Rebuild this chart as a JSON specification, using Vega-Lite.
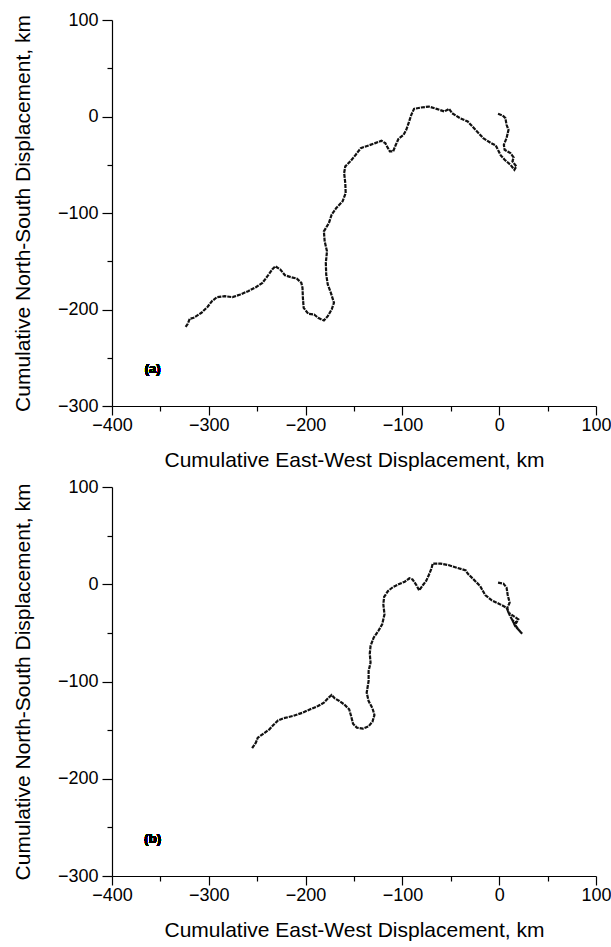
{
  "$schema": "https://vega.github.io/schema/vega-lite/v6.json",
  "background": "white",
  "padding": {"left": 12, "top": 11, "right": 2, "bottom": 5},
  "spacing": 8,
  "config": {
    "view": {"stroke": null},
    "font": "Liberation Sans",
    "axis": {
      "grid": false,
      "domainColor": "black",
      "domainWidth": 1.2,
      "tickColor": "black",
      "tickWidth": 1.2,
      "labelColor": "black",
      "labelFont": "Liberation Sans",
      "labelFontSize": 18,
      "labelFlush": false,
      "labelOverlap": false,
      "titleColor": "black",
      "titleFont": "Liberation Sans",
      "titleFontSize": 21,
      "titleFontWeight": "normal"
    }
  },
  "datasets": {
    "track": [
      {"p":"a","i":1,"x":-1.2,"y":2.8},{"p":"a","i":2,"x":3.6,"y":1.0},{"p":"a","i":3,"x":6.4,"y":-1.7},{"p":"a","i":4,"x":7.6,"y":-8.6},{"p":"a","i":5,"x":9.6,"y":-13.8},{"p":"a","i":6,"x":7.6,"y":-22.4},{"p":"a","i":7,"x":4.8,"y":-29.3},{"p":"a","i":8,"x":5.6,"y":-34.5},{"p":"a","i":9,"x":11.6,"y":-37.9},{"p":"a","i":10,"x":14.9,"y":-42.4},{"p":"a","i":11,"x":13.7,"y":-46.5},{"p":"a","i":12,"x":17.7,"y":-51.7},{"p":"a","i":13,"x":15.7,"y":-55.2},{"p":"a","i":14,"x":11.6,"y":-50.0},{"p":"a","i":15,"x":5.6,"y":-44.8},{"p":"a","i":16,"x":1.6,"y":-40.3},{"p":"a","i":17,"x":-3.6,"y":-30.0},{"p":"a","i":18,"x":-8.4,"y":-27.6},{"p":"a","i":19,"x":-16.5,"y":-22.4},{"p":"a","i":20,"x":-24.5,"y":-13.8},{"p":"a","i":21,"x":-32.5,"y":-5.2},{"p":"a","i":22,"x":-40.6,"y":-1.7},{"p":"a","i":23,"x":-48.6,"y":3.4},{"p":"a","i":24,"x":-51.8,"y":7.9},{"p":"a","i":25,"x":-56.6,"y":5.2},{"p":"a","i":26,"x":-64.7,"y":7.9},{"p":"a","i":27,"x":-72.7,"y":10.3},{"p":"a","i":28,"x":-80.7,"y":9.3},{"p":"a","i":29,"x":-88.0,"y":7.9},{"p":"a","i":30,"x":-90.8,"y":1.7},{"p":"a","i":31,"x":-93.6,"y":-6.9},{"p":"a","i":32,"x":-96.0,"y":-13.8},{"p":"a","i":33,"x":-98.8,"y":-19.0},{"p":"a","i":34,"x":-104.0,"y":-23.1},{"p":"a","i":35,"x":-106.8,"y":-29.3},{"p":"a","i":36,"x":-109.6,"y":-36.2},{"p":"a","i":37,"x":-112.9,"y":-36.2},{"p":"a","i":38,"x":-114.9,"y":-32.8},{"p":"a","i":39,"x":-117.7,"y":-27.6},{"p":"a","i":40,"x":-121.7,"y":-25.2},{"p":"a","i":41,"x":-128.1,"y":-27.6},{"p":"a","i":42,"x":-134.9,"y":-30.0},{"p":"a","i":43,"x":-143.0,"y":-32.8},{"p":"a","i":44,"x":-148.2,"y":-39.6},{"p":"a","i":45,"x":-153.8,"y":-46.5},{"p":"a","i":46,"x":-159.0,"y":-51.7},{"p":"a","i":47,"x":-160.2,"y":-58.6},{"p":"a","i":48,"x":-159.0,"y":-69.0},{"p":"a","i":49,"x":-158.6,"y":-79.3},{"p":"a","i":50,"x":-161.8,"y":-87.9},{"p":"a","i":51,"x":-168.3,"y":-94.8},{"p":"a","i":52,"x":-173.1,"y":-101.7},{"p":"a","i":53,"x":-175.9,"y":-110.3},{"p":"a","i":54,"x":-181.1,"y":-119.0},{"p":"a","i":55,"x":-180.3,"y":-129.3},{"p":"a","i":56,"x":-177.9,"y":-139.6},{"p":"a","i":57,"x":-179.1,"y":-151.7},{"p":"a","i":58,"x":-178.7,"y":-163.8},{"p":"a","i":59,"x":-177.1,"y":-174.1},{"p":"a","i":60,"x":-173.9,"y":-182.7},{"p":"a","i":61,"x":-170.7,"y":-193.1},{"p":"a","i":62,"x":-173.1,"y":-200.0},{"p":"a","i":63,"x":-177.1,"y":-206.9},{"p":"a","i":64,"x":-181.1,"y":-211.4},{"p":"a","i":65,"x":-187.1,"y":-208.6},{"p":"a","i":66,"x":-191.2,"y":-205.2},{"p":"a","i":67,"x":-197.2,"y":-204.5},{"p":"a","i":68,"x":-202.0,"y":-198.3},{"p":"a","i":69,"x":-202.8,"y":-187.9},{"p":"a","i":70,"x":-203.2,"y":-177.6},{"p":"a","i":71,"x":-204.4,"y":-172.4},{"p":"a","i":72,"x":-209.2,"y":-167.9},{"p":"a","i":73,"x":-215.3,"y":-166.5},{"p":"a","i":74,"x":-221.3,"y":-164.5},{"p":"a","i":75,"x":-226.1,"y":-158.6},{"p":"a","i":76,"x":-231.3,"y":-155.2},{"p":"a","i":77,"x":-234.5,"y":-158.6},{"p":"a","i":78,"x":-239.4,"y":-165.5},{"p":"a","i":79,"x":-244.6,"y":-172.4},{"p":"a","i":80,"x":-251.4,"y":-176.9},{"p":"a","i":81,"x":-259.4,"y":-181.0},{"p":"a","i":82,"x":-267.5,"y":-184.5},{"p":"a","i":83,"x":-275.5,"y":-187.2},{"p":"a","i":84,"x":-283.5,"y":-186.2},{"p":"a","i":85,"x":-291.6,"y":-187.2},{"p":"a","i":86,"x":-296.8,"y":-191.4},{"p":"a","i":87,"x":-301.6,"y":-197.6},{"p":"a","i":88,"x":-307.6,"y":-203.4},{"p":"a","i":89,"x":-315.7,"y":-208.6},{"p":"a","i":90,"x":-319.7,"y":-209.6},{"p":"a","i":91,"x":-321.7,"y":-214.8},{"p":"a","i":92,"x":-324.5,"y":-218.9},
      {"p":"b","i":1,"x":-1.2,"y":1.6},{"p":"b","i":2,"x":4.4,"y":0.6},{"p":"b","i":3,"x":7.6,"y":-3.5},{"p":"b","i":4,"x":8.8,"y":-11.1},{"p":"b","i":5,"x":10.8,"y":-19.0},{"p":"b","i":6,"x":8.4,"y":-24.1},{"p":"b","i":7,"x":9.6,"y":-29.2},{"p":"b","i":8,"x":14.9,"y":-32.7},{"p":"b","i":9,"x":19.7,"y":-36.1},{"p":"b","i":10,"x":17.7,"y":-39.5},{"p":"b","i":11,"x":13.7,"y":-37.1},{"p":"b","i":12,"x":16.5,"y":-43.0},{"p":"b","i":13,"x":20.5,"y":-47.4},{"p":"b","i":14,"x":23.7,"y":-50.8},{"p":"b","i":15,"x":19.7,"y":-46.4},{"p":"b","i":16,"x":14.9,"y":-39.5},{"p":"b","i":17,"x":10.8,"y":-31.6},{"p":"b","i":18,"x":7.6,"y":-24.1},{"p":"b","i":19,"x":-0.4,"y":-20.0},{"p":"b","i":20,"x":-7.6,"y":-16.6},{"p":"b","i":21,"x":-14.5,"y":-11.1},{"p":"b","i":22,"x":-19.7,"y":-1.8},{"p":"b","i":23,"x":-26.5,"y":5.0},{"p":"b","i":24,"x":-32.5,"y":10.9},{"p":"b","i":25,"x":-34.5,"y":14.3},{"p":"b","i":26,"x":-43.8,"y":17.0},{"p":"b","i":27,"x":-52.6,"y":19.8},{"p":"b","i":28,"x":-60.7,"y":21.2},{"p":"b","i":29,"x":-68.7,"y":21.2},{"p":"b","i":30,"x":-69.9,"y":16.4},{"p":"b","i":31,"x":-72.7,"y":9.5},{"p":"b","i":32,"x":-75.5,"y":3.3},{"p":"b","i":33,"x":-78.7,"y":-0.8},{"p":"b","i":34,"x":-82.7,"y":-6.3},{"p":"b","i":35,"x":-85.6,"y":-0.8},{"p":"b","i":36,"x":-89.6,"y":5.0},{"p":"b","i":37,"x":-92.8,"y":6.1},{"p":"b","i":38,"x":-97.6,"y":2.6},{"p":"b","i":39,"x":-104.0,"y":-0.1},{"p":"b","i":40,"x":-109.6,"y":-2.8},{"p":"b","i":41,"x":-114.9,"y":-7.0},{"p":"b","i":42,"x":-118.9,"y":-13.1},{"p":"b","i":43,"x":-119.7,"y":-20.7},{"p":"b","i":44,"x":-118.5,"y":-31.0},{"p":"b","i":45,"x":-120.9,"y":-41.2},{"p":"b","i":46,"x":-124.9,"y":-48.1},{"p":"b","i":47,"x":-129.7,"y":-55.0},{"p":"b","i":48,"x":-132.9,"y":-63.5},{"p":"b","i":49,"x":-133.7,"y":-71.4},{"p":"b","i":50,"x":-132.9,"y":-80.7},{"p":"b","i":51,"x":-134.9,"y":-89.2},{"p":"b","i":52,"x":-134.9,"y":-99.5},{"p":"b","i":53,"x":-136.9,"y":-111.5},{"p":"b","i":54,"x":-134.9,"y":-120.1},{"p":"b","i":55,"x":-130.9,"y":-127.6},{"p":"b","i":56,"x":-128.9,"y":-134.5},{"p":"b","i":57,"x":-130.9,"y":-141.3},{"p":"b","i":58,"x":-134.9,"y":-146.1},{"p":"b","i":59,"x":-140.9,"y":-148.5},{"p":"b","i":60,"x":-147.0,"y":-147.5},{"p":"b","i":61,"x":-151.0,"y":-143.4},{"p":"b","i":62,"x":-153.0,"y":-135.5},{"p":"b","i":63,"x":-155.0,"y":-128.6},{"p":"b","i":64,"x":-160.2,"y":-123.5},{"p":"b","i":65,"x":-165.1,"y":-120.1},{"p":"b","i":66,"x":-169.9,"y":-117.3},{"p":"b","i":67,"x":-173.1,"y":-113.9},{"p":"b","i":68,"x":-176.3,"y":-116.7},{"p":"b","i":69,"x":-181.1,"y":-121.8},{"p":"b","i":70,"x":-187.2,"y":-125.2},{"p":"b","i":71,"x":-195.2,"y":-128.6},{"p":"b","i":72,"x":-203.2,"y":-132.1},{"p":"b","i":73,"x":-213.3,"y":-135.5},{"p":"b","i":74,"x":-223.3,"y":-137.9},{"p":"b","i":75,"x":-228.5,"y":-140.0},{"p":"b","i":76,"x":-233.3,"y":-144.8},{"p":"b","i":77,"x":-237.4,"y":-149.2},{"p":"b","i":78,"x":-244.6,"y":-154.4},{"p":"b","i":79,"x":-249.4,"y":-157.8},{"p":"b","i":80,"x":-251.4,"y":-162.9},{"p":"b","i":81,"x":-255.4,"y":-168.8}
    ]
  },
  "vconcat": [
    {
      "width": 484,
      "height": 386,
      "data": {"name": "track"},
      "transform": [{"filter": "datum.p === 'a'"}],
      "layer": [
        {
          "mark": {"type": "line", "color": "#111111", "strokeWidth": 2.2, "strokeDash": [4, 1], "interpolate": "linear"},
          "encoding": {
            "x": {"field": "x", "type": "quantitative",
              "scale": {"domain": [-400, 100], "nice": false, "zero": false},
              "axis": {"title": "Cumulative East-West Displacement, km",
                "values": [-400, -350, -300, -250, -200, -150, -100, -50, 0, 50, 100],
                "labelExpr": "datum.value % 100 === 0 ? datum.label : ''",
                "tickSize": {"condition": {"test": "datum.value % 100 === 0", "value": 9}, "value": 5},
                "labelPadding": 1, "titlePadding": 15}},
            "y": {"field": "y", "type": "quantitative",
              "scale": {"domain": [-300, 100], "nice": false, "zero": false},
              "axis": {"title": "Cumulative North-South Displacement, km",
                "values": [-300, -250, -200, -150, -100, -50, 0, 50, 100],
                "labelExpr": "datum.value % 100 === 0 ? datum.label : ''",
                "tickSize": {"condition": {"test": "datum.value % 100 === 0", "value": 10}, "value": 5},
                "labelPadding": 4, "titlePadding": 24}},
            "order": {"field": "i", "type": "quantitative"}
          }
        },
        {
          "mark": {"type": "text", "font": "Liberation Sans", "fontSize": 13, "fontWeight": "bold", "color": "black", "align": "center", "baseline": "middle"},
          "encoding": {
            "x": {"datum": -358, "type": "quantitative"},
            "y": {"datum": -262, "type": "quantitative"},
            "text": {"value": "(a)"}
          }
        }
      ]
    },
    {
      "width": 484,
      "height": 389,
      "data": {"name": "track"},
      "transform": [{"filter": "datum.p === 'b'"}],
      "layer": [
        {
          "mark": {"type": "line", "color": "#111111", "strokeWidth": 2.2, "strokeDash": [4, 1], "interpolate": "linear"},
          "encoding": {
            "x": {"field": "x", "type": "quantitative",
              "scale": {"domain": [-400, 100], "nice": false, "zero": false},
              "axis": {"title": "Cumulative East-West Displacement, km",
                "values": [-400, -350, -300, -250, -200, -150, -100, -50, 0, 50, 100],
                "labelExpr": "datum.value % 100 === 0 ? datum.label : ''",
                "tickSize": {"condition": {"test": "datum.value % 100 === 0", "value": 9}, "value": 5},
                "labelPadding": 1, "titlePadding": 15}},
            "y": {"field": "y", "type": "quantitative",
              "scale": {"domain": [-300, 100], "nice": false, "zero": false},
              "axis": {"title": "Cumulative North-South Displacement, km",
                "values": [-300, -250, -200, -150, -100, -50, 0, 50, 100],
                "labelExpr": "datum.value % 100 === 0 ? datum.label : ''",
                "tickSize": {"condition": {"test": "datum.value % 100 === 0", "value": 10}, "value": 5},
                "labelPadding": 4, "titlePadding": 24}},
            "order": {"field": "i", "type": "quantitative"}
          }
        },
        {
          "mark": {"type": "text", "font": "Liberation Sans", "fontSize": 13, "fontWeight": "bold", "color": "black", "align": "center", "baseline": "middle"},
          "encoding": {
            "x": {"datum": -358, "type": "quantitative"},
            "y": {"datum": -262, "type": "quantitative"},
            "text": {"value": "(b)"}
          }
        }
      ]
    }
  ]
}
